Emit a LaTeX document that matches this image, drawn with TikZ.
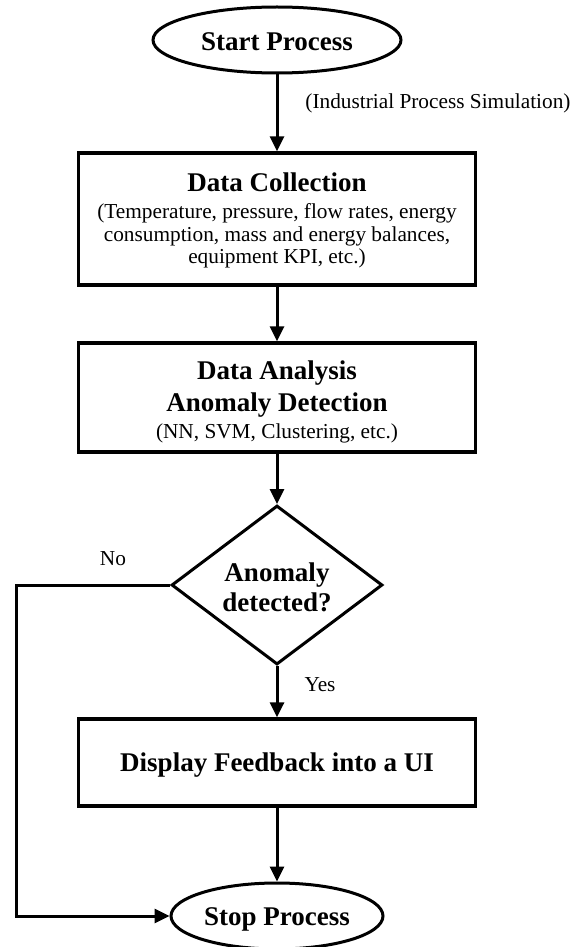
\documentclass[tikz,border=0pt]{standalone}
\usepackage{fontspec}
\setmainfont{Liberation Serif}
\usetikzlibrary{shapes.geometric,arrows.meta}
\begin{document}
\begin{tikzpicture}[x=1pt,y=-1pt,
  shapebox/.style={draw=black,line width=3.3pt,rectangle,minimum width=397pt,inner sep=0pt},
  term/.style={draw=black,line width=3pt,ellipse,inner sep=0pt,minimum height=66pt},
  decide/.style={draw=black,line width=3pt,diamond,aspect=1.327,minimum width=211pt,minimum height=159pt,inner sep=0pt},
  head/.style={anchor=base,inner sep=0pt,font=\fontsize{27}{30}\selectfont\bfseries},
  sub/.style={anchor=base,inner sep=0pt,font=\fontsize{21.3}{23}\selectfont},
  conn/.style={line width=3pt,-{Triangle[length=15pt,width=14pt]}},
]
\useasboundingbox (0,0) rectangle (583,947);
\fill[white] (0,0) rectangle (583,947);

% shapes
\node[term,minimum width=248pt] (start) at (277,40) {};
\node[shapebox,minimum height=132pt] (dc) at (277,219) {};
\node[shapebox,minimum height=109pt] (da) at (277,397.5) {};
\node[decide] (dec) at (277,585) {};
\node[shapebox,minimum height=87pt] (ui) at (277,762.5) {};
\node[term,minimum width=212pt] (stop) at (277,916) {};

% texts
\node[head] (startt) at (277,51) {Start Process};
\node[sub] (ind) at (438,109) {(Industrial Process Simulation)};
\node[head] (dct) at (277,191) {Data Collection};
\node[sub] (dc1) at (277,218) {(Temperature, pressure, flow rates, energy};
\node[sub] (dc2) at (277,241) {consumption, mass and energy balances,};
\node[sub] (dc3) at (277,263) {equipment KPI, etc.)};
\node[head] (dat) at (277,379) {Data Analysis};
\node[head] (adt) at (277,411) {Anomaly Detection};
\node[sub] (nn) at (277,438) {(NN, SVM, Clustering, etc.)};
\node[head] (dect1) at (277,581) {Anomaly};
\node[head] (dect2) at (277,611) {detected?};
\node[head] (uit) at (277,771) {Display Feedback into a UI};
\node[head] (stopt) at (277,925) {Stop Process};
\node[sub] (no) at (113,565) {No};
\node[sub] (yes) at (320,691) {Yes};

% connectors
\coordinate (fl) at (16,750);
\draw[conn] (start) -- (dc);
\draw[conn] (dc) -- (da);
\draw[conn] (da) -- (dec);
\draw[conn] (dec) -- (ui);
\draw[conn] (ui) -- (stop);
\draw[conn] (dec.west) -| (fl) |- (stop.west);
\end{tikzpicture}
\end{document}
